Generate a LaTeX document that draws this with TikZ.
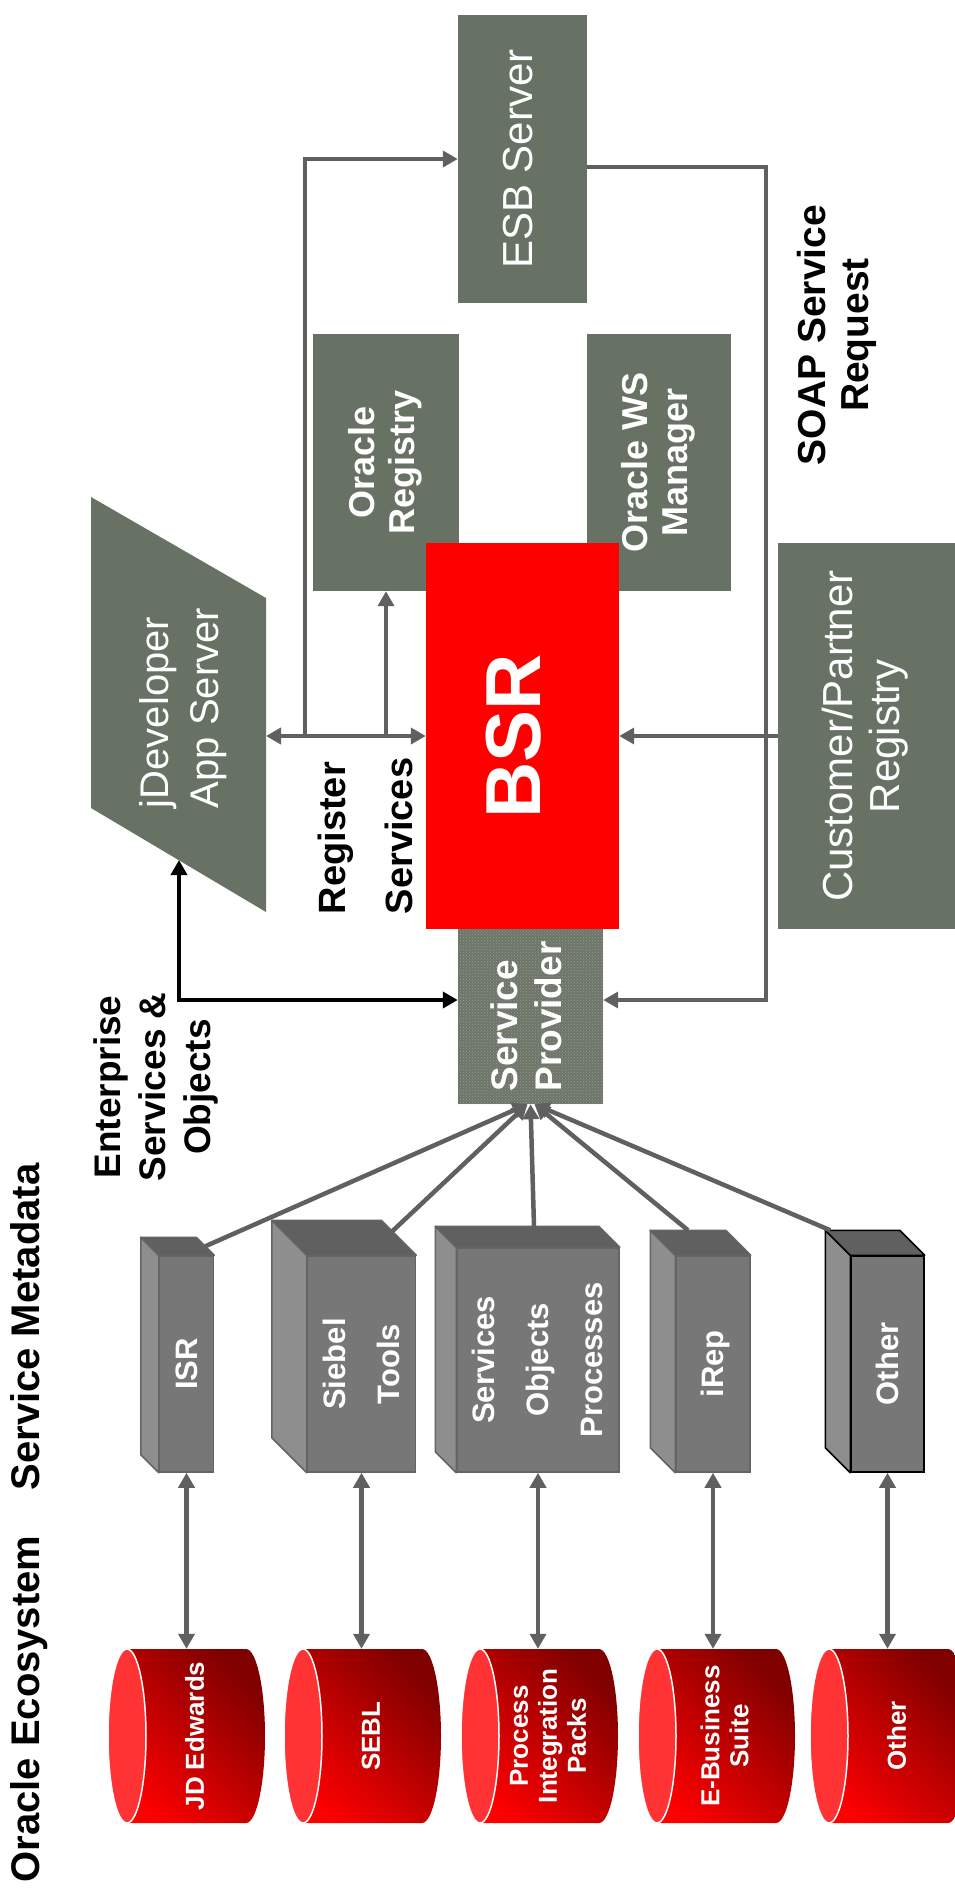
\documentclass[tikz,border=0pt]{standalone}
\usepackage{fontspec}
\setmainfont{Liberation Sans}
\usepackage{graphicx}
\usetikzlibrary{
    arrows.meta,
    patterns,
    calc
}

\definecolor{boxGreen}{RGB}{103,114,101}
\definecolor{spGreen}{RGB}{108,117,104}
\definecolor{dotGray}{RGB}{150,156,146}
\definecolor{lineGray}{RGB}{96,96,96}
\definecolor{frontGray}{RGB}{119,119,119}
\definecolor{sideGray}{RGB}{142,142,142}
\definecolor{topGray}{RGB}{96,96,96}
\definecolor{edgeGray}{RGB}{100,100,100}
\definecolor{capRed}{RGB}{255,51,51}
\definecolor{cylRed}{RGB}{255,0,0}
\definecolor{cylDark}{RGB}{128,0,0}

% rotated (bottom-to-top) text block
\newcommand{\vlab}[2][c]{\rotatebox{90}{\begin{tabular}{@{}#1@{}}#2\end{tabular}}}

\begin{document}
\begin{tikzpicture}[x=1pt, y=-1pt,
    greenbox/.style={fill=boxGreen, inner sep=0pt, text=white},
    arr/.style={draw=lineGray, line width=4.5pt, -{Triangle[length=15pt, width=16pt]}},
    dblarr/.style={arr, {Triangle[length=15pt, width=16pt]}-{Triangle[length=15pt, width=16pt]}},
    blkarr/.style={draw=black, line width=4.5pt, {Triangle[length=15pt, width=16pt]}-{Triangle[length=15pt, width=16pt]}},
    lab/.style={inner sep=0pt, text=black, font=\fontsize{38}{45}\selectfont\bfseries}
]

\useasboundingbox (0,0) rectangle (955,1899);

% Column titles
\node[lab, font=\fontsize{40}{48}\selectfont\bfseries] (ecoT) at (30,1709) {\vlab{Oracle Ecosystem}};
\node[lab, font=\fontsize{40}{48}\selectfont\bfseries] (metaT) at (30,1327) {\vlab{Service Metadata}};

% Registries and servers
\node[greenbox, minimum width=129pt, minimum height=288pt,
      font=\fontsize{42}{50}\selectfont] (esb) at (522.5,159) {\vlab{ESB Server}};
\node[greenbox, minimum width=146pt, minimum height=257pt,
      font=\fontsize{36}{40}\selectfont\bfseries] (oreg) at (386,462.5) {\vlab{Oracle\\Registry}};
\node[greenbox, minimum width=144pt, minimum height=257pt,
      font=\fontsize{36}{40}\selectfont\bfseries] (owsm) at (659,462.5) {\vlab{Oracle WS\\Manager}};
\node[fill=red, inner sep=0pt, text=white, minimum width=193pt, minimum height=386pt,
      font=\fontsize{78}{90}\selectfont\bfseries] (bsr) at (522.5,736) {\vlab{BSR}};
\node[greenbox, minimum width=177pt, minimum height=386pt,
      font=\fontsize{42}{47}\selectfont] (cpreg) at (866.5,736) {\vlab{Customer/Partner\\Registry}};
\node[greenbox, fill=spGreen, postaction={pattern=crosshatch dots, pattern color=dotGray},
      minimum width=145pt, minimum height=175pt,
      font=\fontsize{37}{44}\selectfont\bfseries] (sp) at (530.5,1016.5) {\vlab[l]{Service\\Provider}};

% jDeveloper parallelogram
\fill[boxGreen] (91,497) -- (266,598) -- (266,912) -- (91,808) -- cycle;
\node[inner sep=0pt, text=white, font=\fontsize{40}{50}\selectfont] (jdev) at (183,708)
    {\vlab[l]{jDeveloper\\App Server}};
\coordinate (jdevE) at (266,736);
\coordinate (jdevS) at (179,860);

% Labels
\node[lab, font=\fontsize{37}{45}\selectfont\bfseries] (entL) at (156,1087) {\vlab{Enterprise\\Services \&\\Objects}};
\node[lab, font=\fontsize{38}{67}\selectfont\bfseries] (regL) at (366,836) {\vlab[l]{Register\\Services}};
\node[lab, font=\fontsize{39}{43}\selectfont\bfseries] (soapL) at (838,335) {\vlab{SOAP Service\\Request}};

% Connectors round the BSR
\coordinate (tapA) at (305,736);
\coordinate (tapB) at (oreg.south |- bsr.west);
\draw[dblarr] (jdevE) -- (bsr.west);
\draw[arr] (tapA) |- (esb.west);
\draw[arr] (tapB) -- (oreg.south);
\draw[arr] (cpreg.west) -- (bsr.east);
\draw[arr] ([yshift=-8pt]esb.east) -- ++(179,0) |- ([yshift=16.5pt]sp.east);
\draw[blkarr] (jdevS) |- ([yshift=16.5pt]sp.west);

% Service metadata boxes
\foreach \n/\cx/\cy/\w/\h/\d/\oc/\txt in {
    isr/186.5/1364/51/216/18/edgeGray/{ISR},
    siebel/361.5/1364/105/216/35/edgeGray/{Siebel\\Tools},
    sop/538/1360/162/224/21/edgeGray/{Services\\Objects\\Processes},
    irep/713/1364/74/216/25/edgeGray/{iRep},
    other/887.5/1364/73/216/25/black/{Other}} {
    \node[fill=frontGray, draw=\oc, line width=1.5pt, inner sep=0pt, text=white,
          minimum width=\w pt, minimum height=\h pt,
          font=\fontsize{31}{54}\selectfont\bfseries] (\n) at (\cx,\cy) {\vlab{\txt}};
    \filldraw[fill=sideGray, draw=\oc, line width=1.5pt, line join=round]
        (\n.north west) -- ++(-\d,-\d) -- ([shift={(-\d,-\d)}]\n.south west) -- (\n.south west) -- cycle;
    \filldraw[fill=topGray, draw=\oc, line width=1.5pt, line join=round]
        (\n.north west) -- ++(-\d,-\d) -- ([shift={(-\d,-\d)}]\n.north east) -- (\n.north east) -- cycle;
}

% Fan into the service provider
\draw[arr] ([xshift=-9pt, yshift=9pt]isr.north east) -- ([xshift=-3pt]sp.south);
\draw[arr] ([xshift=-24pt, yshift=24pt]siebel.north east) -- ([xshift=-3pt]sp.south);
\draw[arr] ([xshift=-4pt, yshift=21pt]sop.north) -- (sp.south);
\draw[arr] ([xshift=-25pt, yshift=25pt]irep.north) -- ([xshift=4pt]sp.south);
\draw[arr] ([xshift=-20pt, yshift=25pt]other.north west) -- ([xshift=4pt]sp.south);

% Oracle ecosystem cylinders
\foreach \n/\lx/\txt in {jde/108/{JD Edwards}, sebl/284/{SEBL},
    pip/461/{Process\\Integration\\Packs}, ebs/638/{E-Business\\Suite}, oth/810/{Other}} {
    \node[inner sep=0pt, minimum width=157pt, minimum height=174pt] (\n) at (\lx+78.5,1736) {};
    \shade[top color=cylDark, bottom color=cylRed, shading angle=-45]
        (\lx+19,1649) -- (\lx+138,1649) arc[start angle=-90, end angle=90, x radius=19, y radius=87]
        -- (\lx+19,1823) arc[start angle=90, end angle=270, x radius=19, y radius=87] -- cycle;
    \filldraw[fill=capRed, draw=white, line width=1.5pt] (\lx+19,1736) ellipse [x radius=19, y radius=87];
    \node[inner sep=0pt, text=white, font=\fontsize{26}{29}\selectfont\bfseries] (\n-t) at (\lx+90,1736) {\vlab{\txt}};
}

% Metadata to ecosystem
\foreach \a/\b in {isr/jde, siebel/sebl, sop/pip, irep/ebs, other/oth} {
    \draw[dblarr] (\a.south) -- (\a.south |- \b.north);
}

\end{tikzpicture}
\end{document}
